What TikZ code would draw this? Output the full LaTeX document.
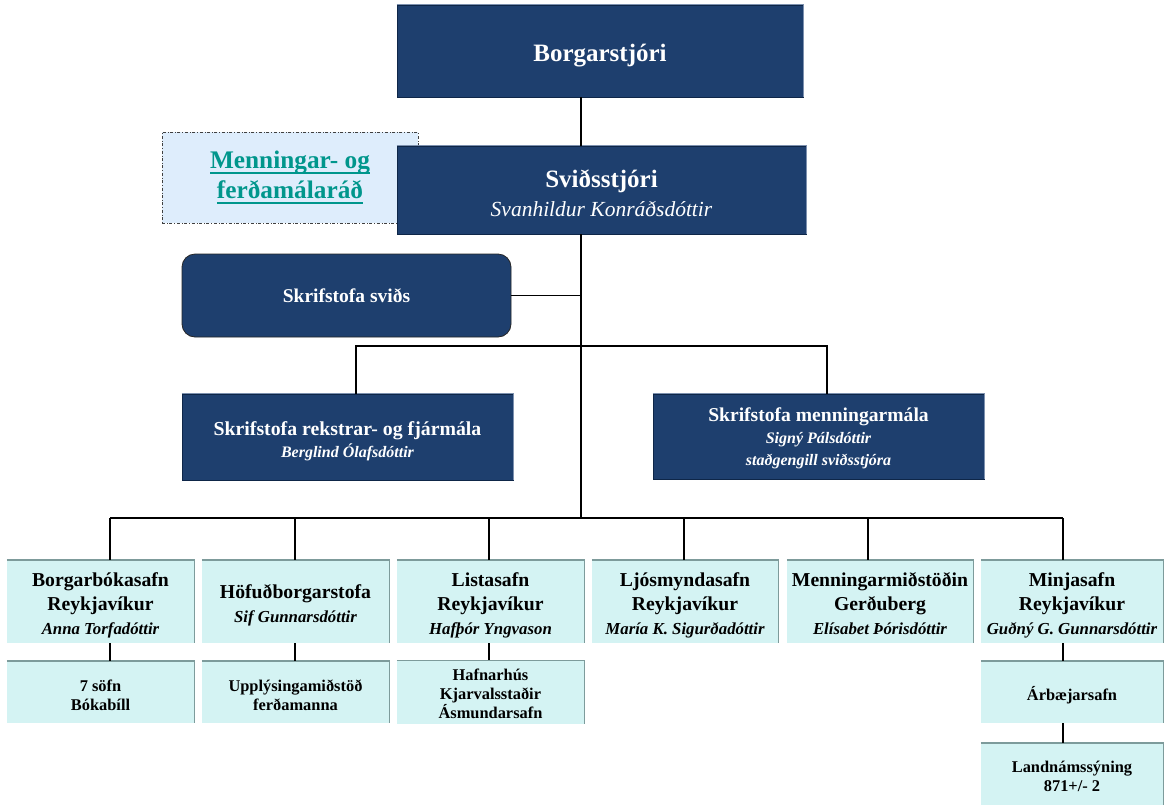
\documentclass[tikz,border=0pt]{standalone}
\usepackage{fontspec}
\setmainfont{Liberation Serif}
\definecolor{navy}{RGB}{30,63,110}
\definecolor{navyedge}{RGB}{14,38,72}
\definecolor{navylight}{RGB}{125,145,175}
\definecolor{cyanbox}{RGB}{212,243,243}
\definecolor{cyanedge}{RGB}{125,155,155}
\definecolor{palebl}{RGB}{222,237,252}
\definecolor{tealtxt}{RGB}{0,150,140}
\newcommand\wordul[1]{\setbox0=\hbox{#1}\rlap{\rule[-5pt]{\wd0}{2pt}}\box0}
\newcommand\mybevel[2]{\draw[#1] (#2.north west) -- (#2.north east) -- (#2.south east);}
\newcommand\nm{\fontsize{16.8}{20}\selectfont\itshape}
\newcommand\toprl[1]{\rule{0pt}{#1pt}}
\newcommand\botrl[1]{\rule[-#1pt]{0pt}{#1pt}}
\tikzset{
  darkbox/.style={fill=navy, draw=navyedge, line width=0.8pt, text=white, align=center, inner sep=0pt},
  lightbox/.style={fill=cyanbox, draw=none, text=black, align=center, inner sep=0pt},
  menbox/.style={fill=palebl, draw=black!75, dash dot, line width=0.9pt, text=tealtxt, align=center, inner sep=0pt},
  conn/.style={draw=black, line width=1.3pt},
  darkbevel/.style={draw=navylight, line width=1.4pt},
  lightbevel/.style={draw=cyanedge, line width=1.4pt},
  f25/.style={font=\bfseries\fontsize{25}{29}\selectfont},
  fmen/.style={font=\bfseries\fontsize{25.3}{30}\selectfont},
  f195/.style={font=\bfseries\fontsize{19.5}{22}\selectfont},
  f198/.style={font=\bfseries\fontsize{19.8}{22}\selectfont},
  f19/.style={font=\bfseries\fontsize{19.7}{24}\selectfont},
  f16/.style={font=\bfseries\fontsize{16.4}{19}\selectfont},
}
\begin{document}
\begin{tikzpicture}[x=1pt,y=-1pt]
\useasboundingbox (0,0) rectangle (1164,804);
\fill[white] (0,0) rectangle (1164,804);

% junction coordinates
\coordinate (jT) at (581,518);
\coordinate (dR) at (356,346);
\coordinate (dM) at (827,346);
\coordinate (b1) at (110,518);
\coordinate (b2) at (295,518);
\coordinate (b3) at (489,518);
\coordinate (b4) at (684,518);
\coordinate (b5) at (868,518);
\coordinate (b6) at (1063,518);

% top boxes
\node[darkbox, f25, minimum width=406pt, minimum height=92pt] (borg) at (600,51)
  {\toprl{27}Borgarstjóri\botrl{5.6}};
\node[menbox, fmen, minimum width=256pt, minimum height=91pt] (mfr) at (290,177.5)
  {\toprl{24}\wordul{Menningar- og}\\\wordul{ferðamálaráð}\botrl{12}};
\node[darkbox, f25, minimum width=409pt, minimum height=88pt] (svid) at (601.5,190)
  {\toprl{30}Sviðsstjóri\\\fontsize{21.5}{26}\selectfont\mdseries\itshape Svanhildur Konráðsdóttir\botrl{6}};
\node[darkbox, f195, draw=black!85, rounded corners=13pt, minimum width=329pt, minimum height=83pt] (sks) at (346.5,295.5)
  {\toprl{20}Skrifstofa sviðs\botrl{5.6}};
\node[darkbox, f198, minimum width=331pt, minimum height=86pt] (rek) at (347.5,437)
  {\toprl{25}Skrifstofa rekstrar- og fjármála\\\fontsize{16}{20}\selectfont\itshape Berglind Ólafsdóttir\botrl{5.6}};
\node[darkbox, f198, minimum width=331pt, minimum height=85pt] (men) at (818.5,436.5)
  {\fontsize{19.6}{22}\selectfont\toprl{22}Skrifstofa menningarmála\\\fontsize{16}{20.7}\selectfont\itshape Signý Pálsdóttir\\\fontsize{16}{17.7}\selectfont\itshape staðgengill sviðsstjóra\botrl{8}};

% bottom row
\node[lightbox, f19, minimum width=187pt, minimum height=83pt] (c1) at (100.5,601.5)
  {\toprl{24}Borgarbókasafn\\Reykjavíkur\\\nm Anna Torfadóttir\botrl{6}};
\node[lightbox, f19, minimum width=187pt, minimum height=83pt] (c2) at (295.5,601.5)
  {\toprl{24}Höfuðborgarstofa\\\nm Sif Gunnarsdóttir\botrl{6}};
\node[lightbox, f19, minimum width=187pt, minimum height=83pt] (c3) at (490.5,601.5)
  {\toprl{24}Listasafn\\Reykjavíkur\\\nm Hafþór Yngvason\botrl{6}};
\node[lightbox, f19, minimum width=186pt, minimum height=83pt] (c4) at (685,601.5)
  {\toprl{24}Ljósmyndasafn\\Reykjavíkur\\\nm María K. Sigurðadóttir\botrl{6}};
\node[lightbox, f19, minimum width=186pt, minimum height=83pt] (c5) at (880,601.5)
  {\toprl{24}Menningarmiðstöðin\\Gerðuberg\\\nm Elísabet Þórisdóttir\botrl{6}};
\node[lightbox, f19, minimum width=182pt, minimum height=83pt] (c6) at (1072,601.5)
  {\toprl{24}Minjasafn\\Reykjavíkur\\\nm Guðný G. Gunnarsdóttir\botrl{6}};

% sub boxes
\node[lightbox, f16, minimum width=187pt, minimum height=62pt] (s1) at (100.5,692)
  {\toprl{21}7 söfn\\Bókabíll\botrl{4}};
\node[lightbox, f16, minimum width=187pt, minimum height=62pt] (s2) at (295.5,692)
  {\toprl{21}Upplýsingamiðstöð\\ferðamanna\botrl{4}};
\node[lightbox, f16, minimum width=187pt, minimum height=62pt] (s3) at (490.5,692)
  {\fontsize{16.4}{18.5}\selectfont\toprl{20}Hafnarhús\\\fontsize{16.4}{18.5}\selectfont Kjarvalsstaðir\\\fontsize{16.4}{18.5}\selectfont Ásmundarsafn\botrl{5}};
\node[lightbox, f16, minimum width=182pt, minimum height=62pt] (s6) at (1072,692)
  {\toprl{21}Árbæjarsafn\botrl{3}};
\node[lightbox, f16, minimum width=182pt, minimum height=65pt] (s7) at (1072,775.5)
  {\toprl{21}Landnámssýning\\871+/- 2\botrl{9}};

% bevels
\foreach \n in {borg,svid,rek,men} {\mybevel{darkbevel}{\n}}
\foreach \n in {c1,c2,c3,c4,c5,c6,s1,s2,s3,s6,s7} {\mybevel{lightbevel}{\n}}

% connectors
\draw[conn] (borg.south -| jT) -- (svid.north -| jT);
\draw[conn] (svid.south -| jT) -- (jT);
\draw[conn] (sks.east) -- (sks.east -| jT);
\draw[conn] (rek.north -| dR) -- (dR) -- (dM) -- (men.north -| dM);
\draw[conn] (b1) -- (b6);
\draw[conn] (b1) -- (c1.north -| b1);
\draw[conn] (b2) -- (c2.north -| b2);
\draw[conn] (b3) -- (c3.north -| b3);
\draw[conn] (b4) -- (c4.north -| b4);
\draw[conn] (b5) -- (c5.north -| b5);
\draw[conn] (b6) -- (c6.north -| b6);
\draw[conn] (c1.south -| b1) -- (s1.north -| b1);
\draw[conn] (c2.south -| b2) -- (s2.north -| b2);
\draw[conn] (c3.south -| b3) -- (s3.north -| b3);
\draw[conn] (c6.south -| b6) -- (s6.north -| b6);
\draw[conn] (s6.south -| b6) -- (s7.north -| b6);
\end{tikzpicture}
\end{document}
